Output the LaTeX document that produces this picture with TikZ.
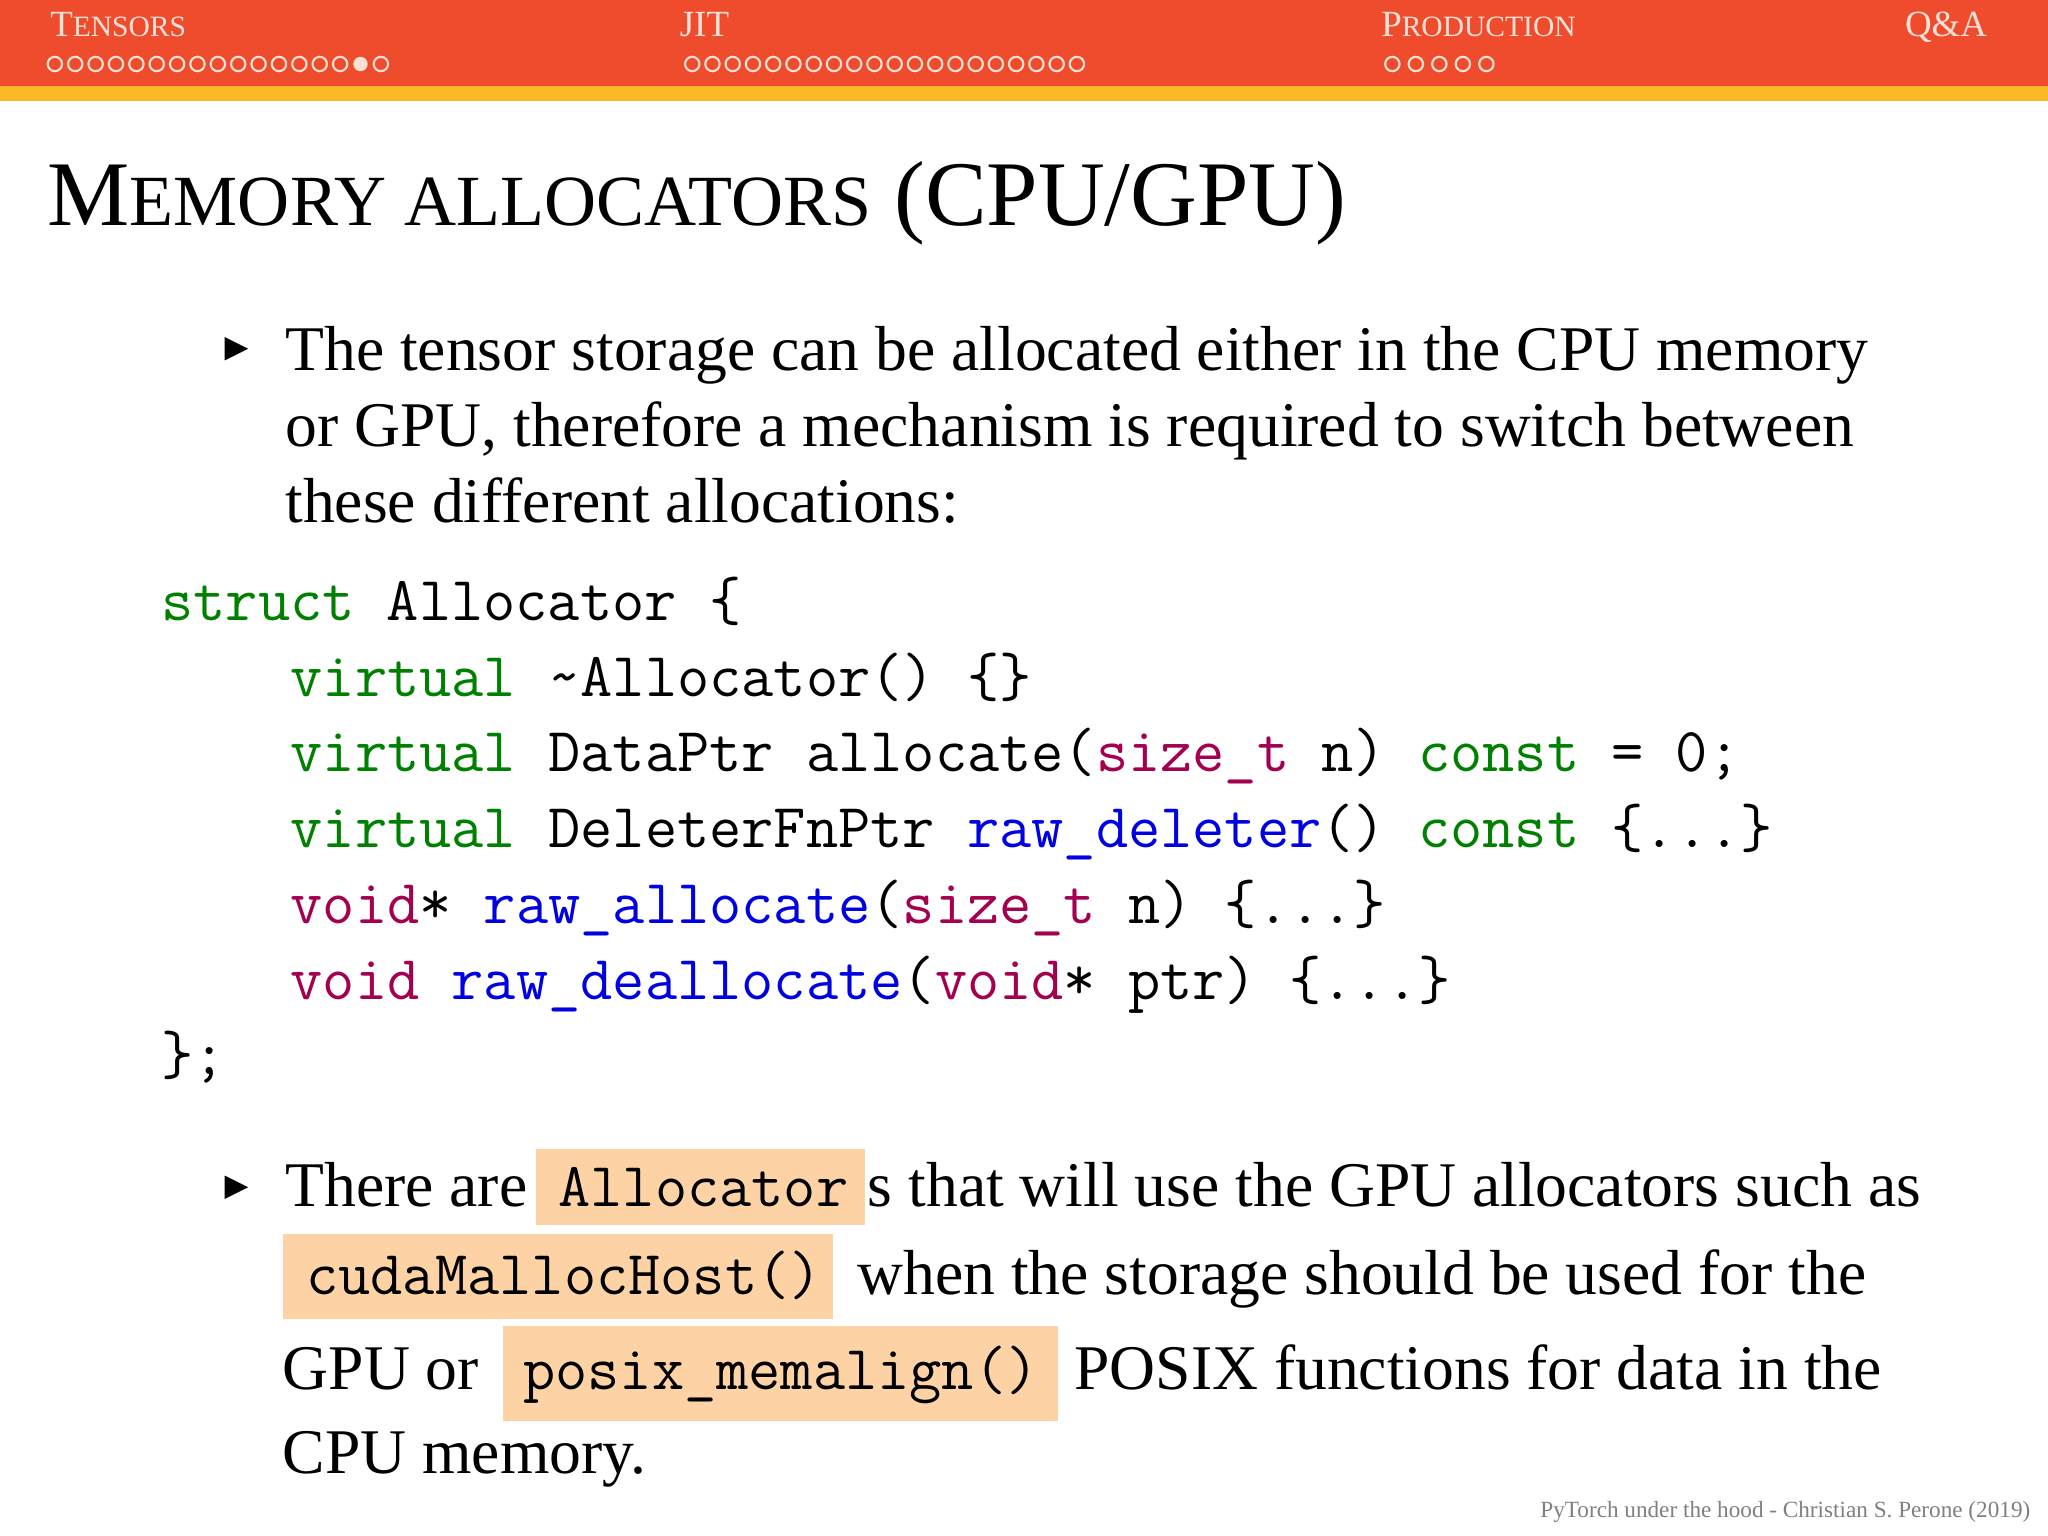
\documentclass[tikz,border=0pt]{standalone}
\usepackage{xcolor}
\usepackage{fontspec}
\setmainfont{Liberation Serif}
\setmonofont{Latin Modern Mono}
\definecolor{hdr}{HTML}{EF4C2E}
\definecolor{ylw}{HTML}{FDB825}
\definecolor{peach}{HTML}{FDD3A6}
\definecolor{kgreen}{HTML}{008000}
\definecolor{kblue}{HTML}{0000E0}
\definecolor{kred}{HTML}{A3004F}
\definecolor{hdtxt}{HTML}{FBE0D6}
\tikzset{
  txt/.style={anchor=base west,inner sep=0pt,font=\fontsize{18.1}{22}\selectfont},
  code/.style={anchor=base west,inner sep=0pt,font=\fontsize{17.8}{20}\selectfont\ttfamily},
  hl/.style={fill=peach,draw=none},
  hd/.style={anchor=base west,inner sep=0pt,text=hdtxt,font=\fontsize{10.5}{12}\selectfont},
  dot/.style={draw=hdtxt,line width=0.6pt},
  bul/.style={fill=black}
}
\newcommand{\kg}[1]{\textcolor{kgreen}{#1}}
\newcommand{\kb}[1]{\textcolor{kblue}{#1}}
\newcommand{\kr}[1]{\textcolor{kred}{#1}}
\newcommand{\smc}[1]{{\fontsize{8.4}{10}\selectfont #1}}
\begin{document}
\begin{tikzpicture}[x=0.013061cm,y=-0.013061cm]
\useasboundingbox (0,0) rectangle (1568,1176);
\fill[white] (0,0) rectangle (1568,1176);
\fill[hdr] (0,0) rectangle (1568,66);
\fill[ylw] (0,66) rectangle (1568,77);
% header
\node[hd] (h1) at (38,28) {T\smc{ENSORS}};
\node[hd] (h2) at (520,28) {JIT};
\node[hd] (h3) at (1057,28) {P\smc{RODUCTION}};
\node[hd] (h4) at (1458,28) {Q\&A};
\foreach \i in {0,...,16}{
  \ifnum\i=15 \fill[hdtxt] (42+\i*15.6,49) circle (5.5);
  \else \draw[dot] (42+\i*15.6,49) circle (5.5); \fi}
\foreach \i in {0,...,19}{\draw[dot] (530+\i*15.5,49) circle (5.5);}
\foreach \i in {0,...,4}{\draw[dot] (1066+\i*18,49) circle (5.5);}
% title
\node[anchor=base west,inner sep=0pt,font=\fontsize{26.3}{30}\selectfont] (title) at (36,173) {M{\fontsize{20.5}{24}\selectfont EMORY ALLOCATORS} (CPU/GPU)};
% bullet 1
\fill[bul] (172,258) -- (190,267) -- (172,276) -- cycle;
\node[txt] (l1) at (218,284) {The tensor storage can be allocated either in the CPU memory};
\node[txt] (l2) at (218,342) {or GPU, therefore a mechanism is required to switch between};
\node[txt] (l3) at (218,400) {these different allocations:};
% code
\node[code] (c1) at (123,475) {\kg{struct} Allocator \{};
\node[code] (c2) at (222,533) {\kg{virtual} \textasciitilde Allocator() \{\}};
\node[code] (c3) at (222,591) {\kg{virtual} DataPtr allocate(\kr{size\_t} n) \kg{const} = 0;};
\node[code] (c4) at (222,649) {\kg{virtual} DeleterFnPtr \kb{raw\_deleter}() \kg{const} \{...\}};
\node[code] (c5) at (222,707) {\kr{void}* \kb{raw\_allocate}(\kr{size\_t} n) \{...\}};
\node[code] (c6) at (222,765) {\kr{void} \kb{raw\_deallocate}(\kr{void}* ptr) \{...\}};
\node[code] (c7) at (123,823) {\};};
% bullet 2
\fill[hl] (410,880) rectangle (662,938);
\fill[hl] (217,945) rectangle (638,1010);
\fill[hl] (385,1015) rectangle (810,1088);
\fill[bul] (172,900) -- (190,909) -- (172,918) -- cycle;
\node[txt] (m1) at (218,924) {There are};
\node[code] (a1) at (427,924) {Allocator};
\node[txt] (m2) at (664,924) {s that will use the GPU allocators such as};
\node[code] (a2) at (234,991) {cudaMallocHost()};
\node[txt] (m3) at (656,991) {when the storage should be used for the};
\node[txt] (m4) at (216,1064) {GPU or};
\node[code] (a3) at (400,1064) {posix\_memalign()};
\node[txt] (m5) at (822,1064) {POSIX functions for data in the};
\node[txt] (m6) at (216,1128) {CPU memory.};
\node[anchor=base east,inner sep=0pt,text=gray,font=\fontsize{6.6}{8}\selectfont] (ft) at (1555,1162) {PyTorch under the hood - Christian S. Perone (2019)};
\end{tikzpicture}
\end{document}
